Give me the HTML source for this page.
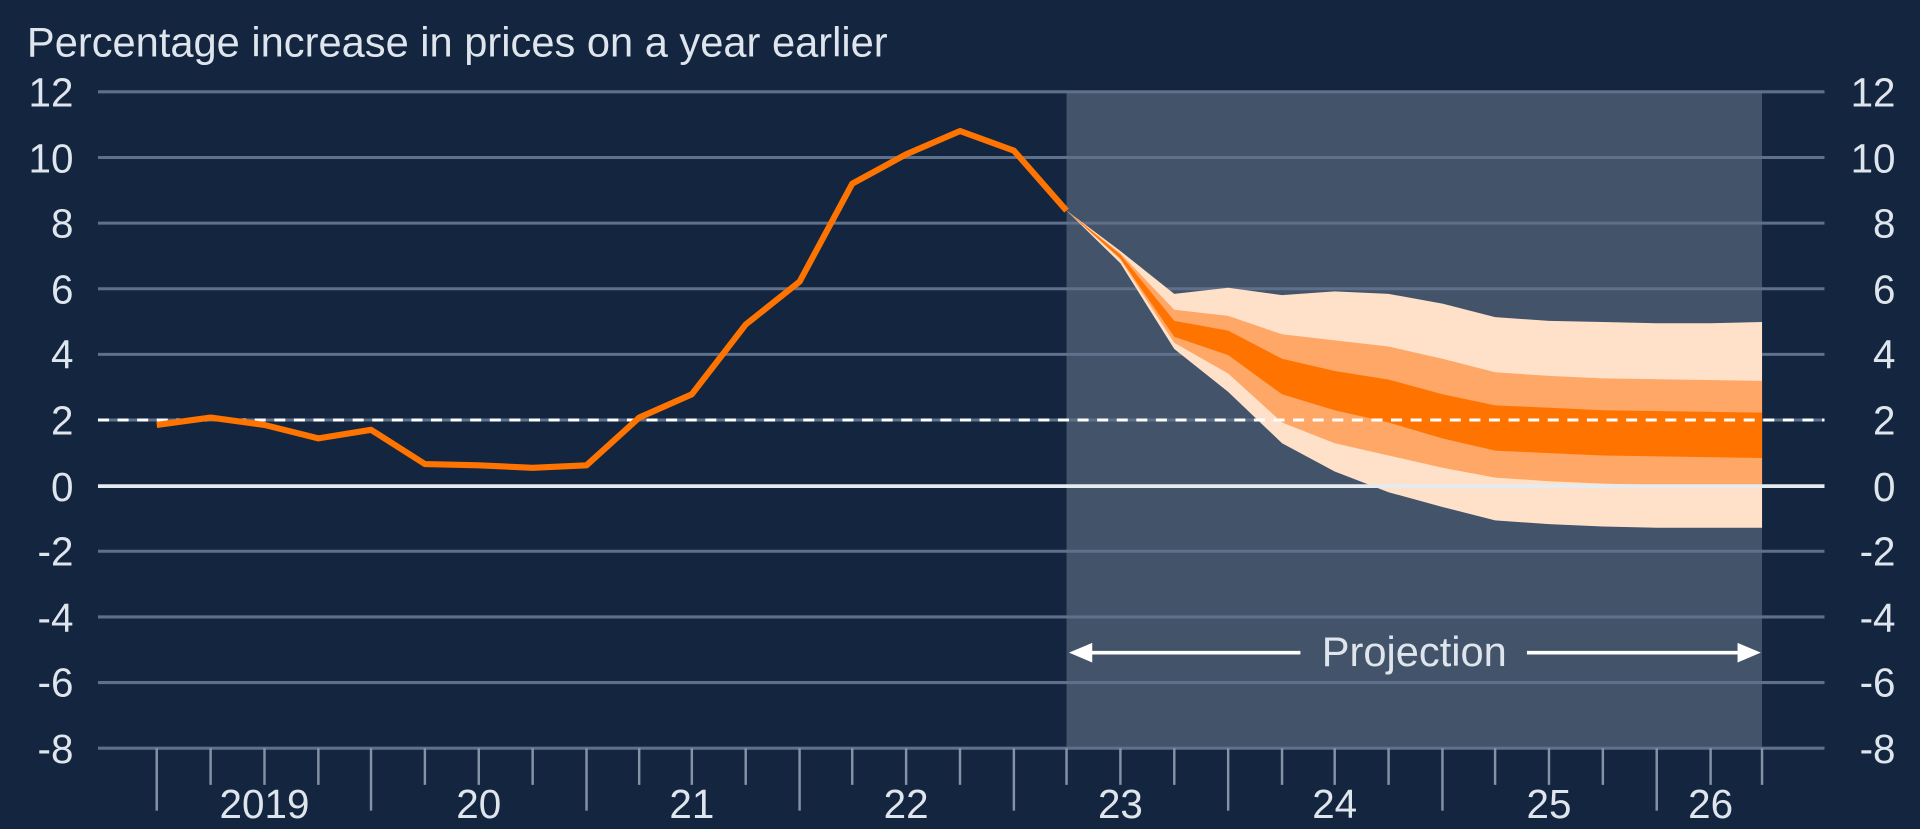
<!DOCTYPE html>
<html><head><meta charset="utf-8"><style>
html,body{margin:0;padding:0;background:#13253f;}
svg{display:block}
text{font-family:"Liberation Sans",sans-serif;fill:#dfe5ec}
</style></head><body>
<svg width="1920" height="829" viewBox="0 0 1568 677" preserveAspectRatio="none">
<rect width="1568" height="677" fill="#13253f"/>
<rect x="871" y="75" width="568" height="536" fill="#42536a"/>
<text x="22" y="46" font-size="34">Percentage increase in prices on a year earlier</text>
<g stroke="#5e708a" stroke-width="2.5">
<line x1="80" x2="1490" y1="75" y2="75"/>
<line x1="80" x2="1490" y1="128.6" y2="128.6"/>
<line x1="80" x2="1490" y1="182.2" y2="182.2"/>
<line x1="80" x2="1490" y1="235.8" y2="235.8"/>
<line x1="80" x2="1490" y1="289.4" y2="289.4"/>
<line x1="80" x2="1490" y1="343" y2="343"/>
<line x1="80" x2="1490" y1="450.2" y2="450.2"/>
<line x1="80" x2="1490" y1="503.8" y2="503.8"/>
<line x1="80" x2="1490" y1="557.4" y2="557.4"/>
<line x1="80" x2="1490" y1="611" y2="611"/>
</g>
<g font-size="33" text-anchor="end">
<text x="60" y="87">12</text><text x="60" y="141">10</text><text x="60" y="194">8</text><text x="60" y="248">6</text><text x="60" y="301">4</text><text x="60" y="355">2</text><text x="60" y="409">0</text><text x="60" y="462">-2</text><text x="60" y="516">-4</text><text x="60" y="569">-6</text><text x="60" y="623">-8</text>
</g>
<g font-size="33" text-anchor="end">
<text x="1548" y="87">12</text><text x="1548" y="141">10</text><text x="1548" y="194">8</text><text x="1548" y="248">6</text><text x="1548" y="301">4</text><text x="1548" y="355">2</text><text x="1548" y="409">0</text><text x="1548" y="462">-2</text><text x="1548" y="516">-4</text><text x="1548" y="569">-6</text><text x="1548" y="623">-8</text>
</g>
<polygon fill="#ffe1c9" points="871,172 915,205 959,240 1003,235 1047,241 1090,238 1134,240 1178,248 1221,259 1265,262 1309,263 1353,264 1397,264 1439,263 1439,431 1353,431 1309,430 1265,428 1221,425 1178,414 1134,402 1090,385 1047,362 1003,320 959,285 915,215"/>
<polygon fill="#ffa766" points="871,172 915,207 959,253 1003,258 1047,273 1090,278 1134,283 1178,293 1221,304 1265,307 1309,309 1439,311 1439,398 1309,395 1265,393 1221,390 1178,382 1134,372 1090,362 1047,345 1003,305 959,280 915,212"/>
<polygon fill="#ff7300" points="871,172 915,208 959,262 1003,270 1047,293 1090,303 1134,310 1178,322 1221,331 1265,333 1309,335 1439,337 1439,374 1309,372 1265,370 1221,368 1178,358 1134,345 1090,335 1047,322 1003,290 959,275 915,211"/>
<line x1="80" x2="1490" y1="397" y2="397" stroke="#e6ebf0" stroke-width="3"/>
<line x1="80" x2="1490" y1="343" y2="343" stroke="#ffffff" stroke-width="2.5" stroke-dasharray="9,7"/>
<polyline fill="none" stroke="#ff7300" stroke-width="5" stroke-linejoin="round" points="128,347 172,341 216,347 260,358 303,351 347,379 391,380 435,382 479,380 522,341 565,322 609,265 653,230 696,150 740,126 784,107 828,123 871,172"/>
<g stroke="#8492a6" stroke-width="2">
<line x1="128" x2="128" y1="611" y2="662"/><line x1="303" x2="303" y1="611" y2="662"/><line x1="479" x2="479" y1="611" y2="662"/><line x1="653" x2="653" y1="611" y2="662"/><line x1="828" x2="828" y1="611" y2="662"/><line x1="1003" x2="1003" y1="611" y2="662"/><line x1="1178" x2="1178" y1="611" y2="662"/><line x1="1353" x2="1353" y1="611" y2="662"/>
<path d="M172 611v30M216 611v30M260 611v30M347 611v30M391 611v30M435 611v30M522 611v30M565 611v30M609 611v30M696 611v30M740 611v30M784 611v30M871 611v30M915 611v30M959 611v30M1047 611v30M1090 611v30M1134 611v30M1221 611v30M1265 611v30M1309 611v30M1397 611v30M1439 611v30"/>
</g>
<g font-size="33" text-anchor="middle">
<text x="216" y="668">2019</text><text x="391" y="668">20</text><text x="565" y="668">21</text><text x="740" y="668">22</text><text x="915" y="668">23</text><text x="1090" y="668">24</text><text x="1265" y="668">25</text><text x="1397" y="668">26</text>
</g>
<g stroke="#fff" stroke-width="3"><line x1="880" x2="1062" y1="533" y2="533"/><line x1="1247" x2="1430" y1="533" y2="533"/></g>
<polygon fill="#fff" points="873,533 892,525 892,541"/>
<polygon fill="#fff" points="1438,533 1419,525 1419,541"/>
<text x="1155" y="544" font-size="34" text-anchor="middle" fill="#fff">Projection</text>
</svg>
</body></html>
